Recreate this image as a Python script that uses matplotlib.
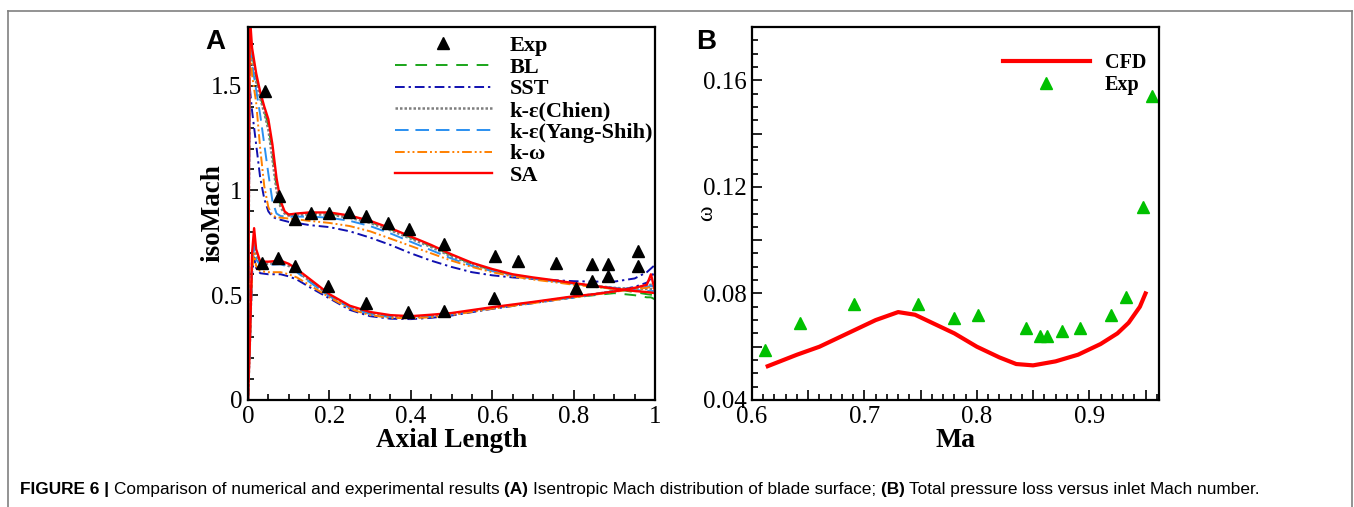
import matplotlib
matplotlib.use("Agg")
import matplotlib.pyplot as plt
from matplotlib.ticker import MultipleLocator, FuncFormatter
from matplotlib.lines import Line2D
from matplotlib import font_manager

# ---- panel A: isentropic Mach on blade surface ----
SUC_X = [0, 0.004, 0.01, 0.02, 0.03, 0.04, 0.05, 0.06, 0.07, 0.08, 0.09, 0.1, 0.12, 0.15,
         0.2, 0.25, 0.3, 0.35, 0.4, 0.45, 0.5, 0.55, 0.6, 0.65, 0.7, 0.75, 0.8, 0.85, 0.9,
         0.95, 0.98, 1.0]
PRS_X = [0, 0.005, 0.01, 0.015, 0.02, 0.03, 0.05, 0.08, 0.1, 0.12, 0.15, 0.2, 0.25, 0.3,
         0.35, 0.4, 0.45, 0.5, 0.6, 0.7, 0.8, 0.85, 0.9, 0.95, 0.98, 0.99, 1.0]

bl_suc = [0, 1.80, 1.65, 1.54, 1.45, 1.38, 1.31, 1.18, 1.02, 0.93, 0.895, 0.885, 0.885, 0.89,
          0.89, 0.875, 0.85, 0.815, 0.775, 0.735, 0.69, 0.65, 0.62, 0.598, 0.582, 0.57, 0.556,
          0.543, 0.53, 0.515, 0.505, 0.50]
bl_prs = [0, 0.3, 0.68, 0.78, 0.70, 0.655, 0.655, 0.66, 0.645, 0.62, 0.575, 0.50, 0.445, 0.415,
          0.40, 0.395, 0.40, 0.41, 0.44, 0.465, 0.49, 0.50, 0.51, 0.50, 0.49, 0.49, 0.48]
sst_suc = [0, 1.50, 1.38, 1.22, 1.06, 0.96, 0.90, 0.875, 0.865, 0.86, 0.855, 0.85, 0.845, 0.835,
           0.825, 0.805, 0.775, 0.74, 0.70, 0.665, 0.635, 0.61, 0.595, 0.585, 0.578, 0.572,
           0.567, 0.565, 0.565, 0.58, 0.61, 0.645]
sst_prs = [0, 0.3, 0.6, 0.68, 0.63, 0.605, 0.60, 0.60, 0.59, 0.575, 0.54, 0.485, 0.43, 0.40,
           0.388, 0.386, 0.392, 0.403, 0.435, 0.462, 0.49, 0.505, 0.52, 0.54, 0.56, 0.58, 0.62]
chien_suc = [0, 1.78, 1.62, 1.52, 1.44, 1.37, 1.29, 1.15, 1.0, 0.92, 0.89, 0.88, 0.88, 0.885,
             0.885, 0.87, 0.845, 0.81, 0.77, 0.73, 0.685, 0.648, 0.618, 0.596, 0.58, 0.568,
             0.555, 0.545, 0.535, 0.53, 0.53, 0.53]
chien_prs = [0, 0.3, 0.66, 0.76, 0.69, 0.65, 0.65, 0.655, 0.64, 0.615, 0.57, 0.50, 0.443, 0.413,
             0.398, 0.394, 0.40, 0.41, 0.44, 0.465, 0.492, 0.505, 0.52, 0.535, 0.545, 0.55, 0.545]
ys_suc = [0, 1.72, 1.60, 1.48, 1.36, 1.22, 1.08, 0.95, 0.89, 0.878, 0.876, 0.875, 0.875, 0.875,
          0.87, 0.855, 0.83, 0.795, 0.755, 0.715, 0.675, 0.64, 0.615, 0.595, 0.58, 0.567, 0.555,
          0.545, 0.535, 0.525, 0.52, 0.52]
ys_prs = [0, 0.3, 0.64, 0.73, 0.67, 0.645, 0.645, 0.648, 0.635, 0.61, 0.565, 0.495, 0.44, 0.41,
          0.395, 0.392, 0.398, 0.408, 0.438, 0.463, 0.49, 0.503, 0.518, 0.53, 0.54, 0.545, 0.54]
kw_suc = [0, 1.70, 1.55, 1.42, 1.20, 1.02, 0.92, 0.88, 0.872, 0.87, 0.868, 0.866, 0.862, 0.855,
          0.845, 0.83, 0.805, 0.77, 0.735, 0.70, 0.665, 0.635, 0.61, 0.59, 0.575, 0.563, 0.55,
          0.54, 0.53, 0.52, 0.515, 0.51]
kw_prs = [0, 0.3, 0.62, 0.70, 0.64, 0.615, 0.61, 0.61, 0.60, 0.585, 0.55, 0.49, 0.435, 0.405,
          0.392, 0.39, 0.395, 0.405, 0.436, 0.462, 0.49, 0.502, 0.516, 0.53, 0.535, 0.54, 0.53]
sa_suc = [0, 1.85, 1.68, 1.56, 1.47, 1.40, 1.34, 1.22, 1.06, 0.95, 0.90, 0.885, 0.89, 0.895,
          0.895, 0.88, 0.855, 0.82, 0.78, 0.74, 0.695, 0.655, 0.625, 0.60, 0.585, 0.572, 0.558,
          0.545, 0.532, 0.52, 0.515, 0.51]
sa_prs = [0, 0.3, 0.7, 0.82, 0.72, 0.66, 0.66, 0.665, 0.65, 0.625, 0.58, 0.505, 0.45, 0.42,
          0.405, 0.40, 0.407, 0.415, 0.443, 0.468, 0.495, 0.505, 0.518, 0.535, 0.55, 0.60, 0.52]

exp_x = [0.041, 0.076, 0.115, 0.156, 0.199, 0.247, 0.289, 0.344, 0.395, 0.482, 0.607, 0.664,
         0.757, 0.844, 0.885, 0.959, 0.959, 0.885, 0.844, 0.806,
         0.035, 0.074, 0.115, 0.197, 0.289, 0.393, 0.481, 0.605]
exp_y = [1.473, 0.974, 0.863, 0.891, 0.891, 0.898, 0.879, 0.847, 0.815, 0.743, 0.687, 0.663,
         0.655, 0.647, 0.647, 0.711, 0.639, 0.594, 0.567, 0.535,
         0.652, 0.679, 0.639, 0.543, 0.463, 0.419, 0.427, 0.487]

# ---- panel B: total pressure loss vs inlet Mach ----
cfd_ma = [0.614, 0.64, 0.66, 0.69, 0.71, 0.73, 0.745, 0.76, 0.78, 0.80, 0.82, 0.835, 0.85,
          0.87, 0.89, 0.91, 0.925, 0.935, 0.945, 0.95]
cfd_loss = [0.0527, 0.057, 0.060, 0.066, 0.070, 0.073, 0.072, 0.069, 0.065, 0.060, 0.056,
            0.0535, 0.053, 0.0545, 0.057, 0.061, 0.065, 0.069, 0.075, 0.080]
exp_ma = [0.612, 0.643, 0.691, 0.748, 0.780, 0.801, 0.844, 0.856, 0.862, 0.876, 0.892, 0.919,
          0.933, 0.948, 0.956]
exp_loss = [0.0588, 0.0689, 0.076, 0.076, 0.0708, 0.0719, 0.067, 0.064, 0.064, 0.066, 0.067,
            0.072, 0.0786, 0.1124, 0.154]

SERIF = "Liberation Serif"
plt.rcParams["font.family"] = SERIF
plt.rcParams["mathtext.fontset"] = "stix"

fig = plt.figure(figsize=(13.54, 5.07), dpi=100)
W, H = 1354, 507


def style_axes(ax):
    ax.tick_params(which="both", direction="in", top=False, right=False,
                   labelsize=18, width=1.2, pad=4)
    ax.tick_params(which="major", length=7)
    ax.tick_params(which="minor", length=4)
    for s in ax.spines.values():
        s.set_linewidth(1.6)


def fmt_every(step):
    def f(v, pos):
        k = round(v / step)
        if abs(v - k * step) > 1e-6:
            return ""
        return "%g" % round(v, 4)
    return FuncFormatter(f)


# panel A
axA = fig.add_axes([248 / W, 1 - 400 / H, 407 / W, 373 / H])
models = [
    ("BL", bl_suc, bl_prs, "#1aa51a", (0, (6, 4.5)), 1.4),
    ("SST", sst_suc, sst_prs, "#1010b0", (0, (5, 2, 1.2, 2)), 1.4),
    ("k-ε(Chien)", chien_suc, chien_prs, "#7f7f7f", (0, (1, 0.8)), 1.8),
    ("k-ε(Yang-Shih)", ys_suc, ys_prs, "#2a8ff0", (0, (7, 3.5)), 1.4),
    ("k-ω", kw_suc, kw_prs, "#ff8000", (0, (5, 1.5, 1, 1.5, 1, 1.5)), 1.4),
    ("SA", sa_suc, sa_prs, "#ff0000", "-", 1.7),
]
axA.plot(exp_x, exp_y, "^", color="black", ms=9, ls="none", label="Exp", zorder=5)
for name, suc, prs, c, ls, lw in models:
    axA.plot(SUC_X, suc, color=c, ls=ls, lw=lw, label=name)
    axA.plot(PRS_X, prs, color=c, ls=ls, lw=lw)
axA.set_xlim(0, 1)
axA.set_ylim(0, 1.78)
axA.xaxis.set_major_locator(MultipleLocator(0.2))
axA.xaxis.set_minor_locator(MultipleLocator(0.05))
axA.yaxis.set_major_locator(MultipleLocator(0.5))
axA.yaxis.set_minor_locator(MultipleLocator(0.1))
axA.xaxis.set_major_formatter(FuncFormatter(lambda v, p: "%g" % round(v, 3)))
axA.yaxis.set_major_formatter(FuncFormatter(lambda v, p: "%g" % round(v, 3)))
style_axes(axA)
axA.set_xlabel("Axial Length", fontsize=19.5, fontweight="bold", labelpad=0)
axA.set_ylabel("isoMach", fontsize=19.5, fontweight="bold")
axA.yaxis.set_label_coords(-0.055, 0.5)
axA.legend(loc="upper left", bbox_to_anchor=(0.36, 0.977), frameon=False,
           prop={"family": SERIF, "weight": "bold", "size": 16},
           handlelength=4.4, handletextpad=0.77, labelspacing=0.05, borderpad=0,
           borderaxespad=0)
fig.text(215 / W, 1 - 42 / H, "A", fontsize=20, fontweight="bold",
         family="Liberation Sans", ha="center", va="center")

# panel B
axB = fig.add_axes([752 / W, 1 - 400 / H, 407 / W, 373 / H])
axB.plot(cfd_ma, cfd_loss, color="#ff0000", lw=3, label="CFD")
axB.plot(exp_ma, exp_loss, "^", color="#00c000", ms=8, ls="none", label="Exp")
axB.set_xlim(0.6, 0.962)
axB.set_ylim(0.04, 0.18)
axB.xaxis.set_major_locator(MultipleLocator(0.05))
axB.xaxis.set_minor_locator(MultipleLocator(0.01))
axB.yaxis.set_major_locator(MultipleLocator(0.02))
axB.yaxis.set_minor_locator(MultipleLocator(0.005))
axB.xaxis.set_major_formatter(fmt_every(0.1))
axB.yaxis.set_major_formatter(FuncFormatter(
    lambda v, p: ("%.2f" % v) if abs(v / 0.04 - round(v / 0.04)) < 1e-6 else ""))
style_axes(axB)
axB.set_xlabel("Ma", fontsize=20, fontweight="bold", labelpad=0)
axB.set_ylabel("ω", fontsize=17)
axB.yaxis.set_label_coords(-0.085, 0.5)
axB.legend(loc="upper left", bbox_to_anchor=(0.617, 0.929), frameon=False,
           prop={"family": SERIF, "weight": "bold", "size": 14.5},
           handlelength=4.3, handletextpad=0.75, labelspacing=0.1, borderpad=0,
           borderaxespad=0)
fig.text(706 / W, 1 - 42 / H, "B", fontsize=20, fontweight="bold",
         family="Liberation Sans", ha="center", va="center")

# thin frame round the figure area
fig.add_artist(Line2D([8 / W, 1352 / W], [1 - 11 / H, 1 - 11 / H], color="#808080", lw=1.2))
fig.add_artist(Line2D([8 / W, 8 / W], [0, 1 - 11 / H], color="#808080", lw=1.2))
fig.add_artist(Line2D([1352 / W, 1352 / W], [0, 1 - 11 / H], color="#808080", lw=1.2))

# caption
try:
    font_manager.findfont("Liberation Sans Narrow", fallback_to_default=False)
    cap_family = "Liberation Sans Narrow"
except Exception:
    cap_family = "Liberation Sans"

parts = [("FIGURE 6 | ", "bold"), ("Comparison of numerical and experimental results ", "normal"),
         ("(A) ", "bold"), ("Isentropic Mach distribution of blade surface; ", "normal"),
         ("(B) ", "bold"), ("Total pressure loss versus inlet Mach number.", "normal")]
renderer = fig.canvas.get_renderer()


def draw_caption(size):
    arts = []
    x = 20
    for s, w in parts:
        t = fig.text(x / W, 1 - 494 / H, s, fontsize=size, fontweight=w, family=cap_family,
                     ha="left", va="baseline")
        arts.append(t)
        x += t.get_window_extent(renderer).width
    return arts, x - 20


arts, width = draw_caption(14)
for a in arts:
    a.remove()
size = min(14.5, 14 * 1250 / width)
draw_caption(size)

fig.savefig("out.png", dpi=100)
